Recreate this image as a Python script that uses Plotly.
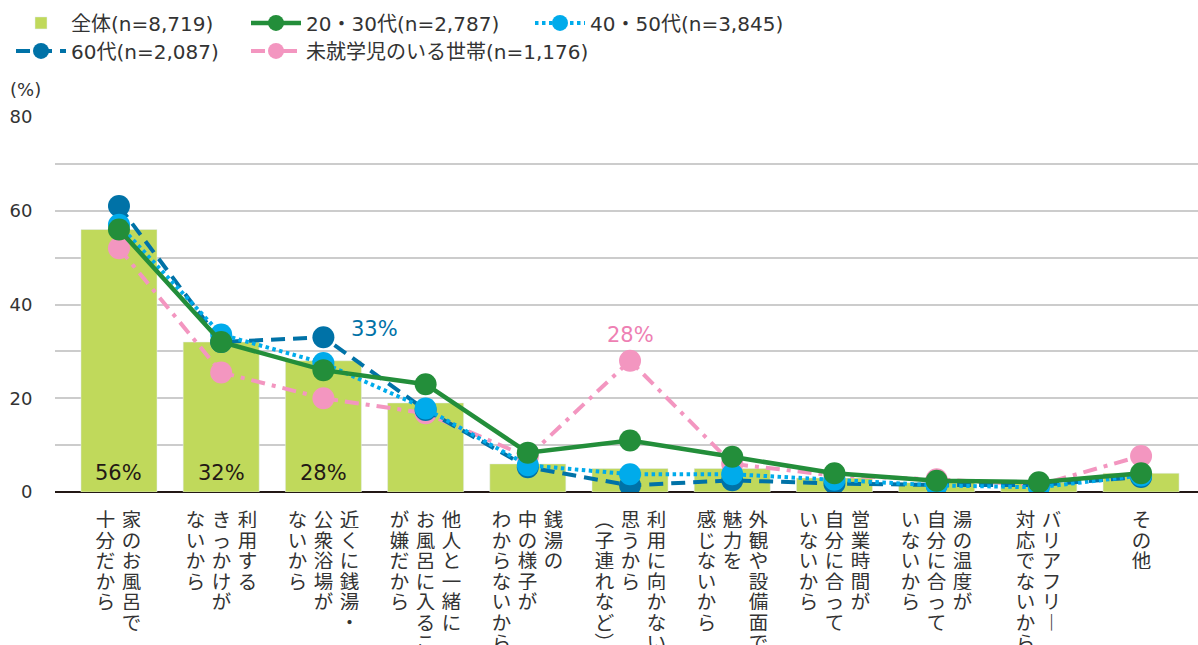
import plotly.graph_objects as go

# ---------------- data ----------------
categories = [
    "家のお風呂で\n十分だから",
    "利用する\nきっかけが\nないから",
    "近くに銭湯・\n公衆浴場が\nないから",
    "他人と一緒に\nお風呂に入ること\nが嫌だから",
    "銭湯の\n中の様子が\nわからないから",
    "利用に向かないと\n思うから\n(子連れなど)",
    "外観や設備面で、\n魅力を\n感じないから",
    "営業時間が\n自分に合って\nいないから",
    "湯の温度が\n自分に合って\nいないから",
    "バリアフリー\n対応でないから",
    "その他",
]
total = [56, 32, 28, 19, 6, 5, 5, 3, 2, 2, 4]
age_20_30 = [56, 32, 26, 23, 8.4, 11, 7.5, 4, 2.4, 2.1, 4]
age_40_50 = [57, 33.6, 27.5, 17.8, 5.7, 3.8, 3.8, 2.6, 1.4, 1.0, 3.5]
age_60 = [61, 32, 33, 17.5, 5.3, 1.4, 2.5, 1.8, 1.5, 1.5, 3.2]
preschool = [52, 25.5, 20, 16.8, 7.5, 28, 6, 3.5, 2.7, 1.5, 7.7]

name_total = "全体(n=8,719)"
name_20_30 = "20・30代(n=2,787)"
name_40_50 = "40・50代(n=3,845)"
name_60 = "60代(n=2,087)"
name_pre = "未就学児のいる世帯(n=1,176)"

y_ticks = [0, 20, 40, 60, 80]
bar_labeled = 3  # first three bars carry value labels

# ---------------- style ----------------
FONT = "DejaVu Sans, Noto Sans CJK JP"
FONT_CJK = "Noto Sans CJK JP"
C_BAR = "#c0d95b"
C_GREEN = "#238e3a"
C_LBLUE = "#00abeb"
C_DBLUE = "#0072a7"
C_PINK = "#f396c0"
C_TEXT = "#333333"

cat_keys = [c.replace("\n", "") for c in categories]

fig = go.Figure()

fig.add_trace(go.Bar(
    x=cat_keys, y=total, name=name_total, marker_color=C_BAR, width=0.744,
    legend="legend", hoverinfo="skip"))

def line_trace(vals, name, color, dash, width, legend):
    return go.Scatter(
        x=cat_keys, y=vals, name=name, mode="lines+markers",
        line=dict(color=color, width=width, dash=dash),
        marker=dict(color=color, size=22),
        legend=legend, hoverinfo="skip")

fig.add_trace(line_trace(preschool, name_pre, C_PINK, "14px,7px,4px,7px", 4, "legend5"))
fig.add_trace(line_trace(age_60, name_60, C_DBLUE, "14px,8px", 4, "legend4"))
fig.add_trace(line_trace(age_40_50, name_40_50, C_LBLUE, "3.5px,3.5px", 4, "legend3"))
fig.add_trace(line_trace(age_20_30, name_20_30, C_GREEN, "solid", 4.5, "legend2"))

annotations = []

# value labels on the first bars
for i in range(bar_labeled):
    annotations.append(dict(
        x=cat_keys[i], y=0, xref="x", yref="y", text=f"{total[i]}%",
        showarrow=False, yanchor="middle", yshift=19,
        font=dict(family=FONT, size=21, color="#231815")))

# highlighted values
annotations.append(dict(
    x=cat_keys[2], y=age_60[2], xref="x", yref="y", text=f"{round(age_60[2])}%",
    showarrow=False, xanchor="left", xshift=26, yshift=8,
    font=dict(family=FONT, size=21, color=C_DBLUE)))
annotations.append(dict(
    x=cat_keys[5], y=preschool[5], xref="x", yref="y", text=f"{round(preschool[5])}%",
    showarrow=False, yshift=26,
    font=dict(family=FONT, size=21, color="#ee7fb3")))

# vertical (tategaki) category labels
vertical_forms = {"、": "︑", "(": "︵", ")": "︶", "ー": "︱"}
COL_PITCH = 26
CHAR_PITCH = 20.5
for i, lab in enumerate(categories):
    cols = lab.split("\n")
    n = len(cols)
    for j, col in enumerate(cols):
        xs = ((n - 1) / 2 - j) * COL_PITCH
        for k, ch in enumerate(col):
            annotations.append(dict(
                x=cat_keys[i], y=0, xref="x", yref="paper",
                text=vertical_forms.get(ch, ch), showarrow=False,
                xanchor="center", yanchor="middle", width=21, height=20,
                borderpad=0, valign="middle",
                xshift=xs, yshift=-(26 + k * CHAR_PITCH),
                font=dict(family=FONT_CJK, size=19.5, color=C_TEXT)))

# unit
annotations.append(dict(
    x=(8 - 55) / 1143, y=(492 - 90) / 375, xref="paper", yref="paper", text="(%)",
    showarrow=False, xanchor="left", yanchor="middle",
    font=dict(family=FONT, size=18, color=C_TEXT)))

legend_common = dict(
    orientation="v", xref="container", yref="container", yanchor="top",
    xanchor="left", bgcolor="rgba(0,0,0,0)", itemwidth=50,
    font=dict(family=FONT, size=20, color=C_TEXT), tracegroupgap=0)

ROW1 = 0.9947
ROW2 = 0.9513
fig.update_layout(
    width=1198, height=645,
    margin=dict(l=55, r=0, t=117, b=153, autoexpand=False),
    paper_bgcolor="white", plot_bgcolor="white",
    font=dict(family=FONT, color=C_TEXT),
    showlegend=True,
    legend=dict(x=11 / 1198, y=ROW1, **legend_common),
    legend2=dict(x=246 / 1198, y=ROW1, **legend_common),
    legend3=dict(x=530 / 1198, y=ROW1, **legend_common),
    legend4=dict(x=11 / 1198, y=ROW2, **legend_common),
    legend5=dict(x=246 / 1198, y=ROW2, **legend_common),
    annotations=annotations,
)

fig.update_xaxes(
    range=[-0.626, 10.557], showticklabels=False, showgrid=False,
    zeroline=False, showline=False, ticks="", automargin=False)
fig.update_yaxes(
    range=[0, 80], tickvals=y_ticks, showgrid=True, gridcolor="#cccccc",
    gridwidth=1.5, minor=dict(dtick=10, showgrid=True, gridcolor="#cccccc", gridwidth=1.5),
    zeroline=True, zerolinecolor="#231815", zerolinewidth=1.5,
    ticks="outside", ticklen=18, tickcolor="rgba(0,0,0,0)", automargin=False,
    tickfont=dict(family=FONT, size=18, color=C_TEXT), showline=False)

fig.write_html("out.html", config={"displayModeBar": False},
               post_script="document.body.style.margin='0px';")
